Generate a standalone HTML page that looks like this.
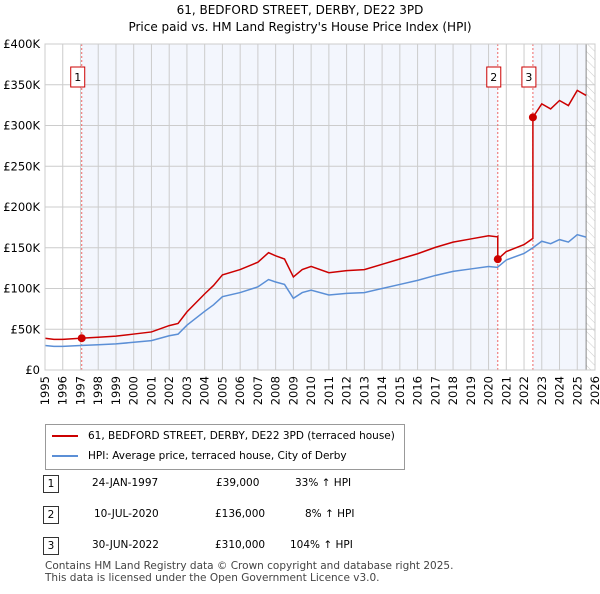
<!DOCTYPE html>
<html><head><meta charset="utf-8"><style>
body{margin:0;background:#fff;font-family:"DejaVu Sans","Liberation Sans",sans-serif;}
svg text{font-family:"DejaVu Sans","Liberation Sans",sans-serif;}
</style></head><body>
<svg id="c" width="600" height="590" xmlns="http://www.w3.org/2000/svg"></svg>
<script>
const years=[1995,1995.5,1996,1997,1998,1999,2000,2001,2002,2002.5,2003,2004,2004.5,2005,2006,2007,2007.6,2008,2008.5,2009,2009.5,2010,2011,2012,2013,2014,2015,2016,2017,2018,2019,2020,2020.5,2021,2022,2022.5,2023,2023.5,2024,2024.5,2025,2025.5];
const hpi=[30,29,29,30,31,32,34,36,42,44,55,72,80,90,95,102,111,108,105,88,95,98,92,94,95,100,105,110,116,121,124,127,126,135,143,150,158,155,160,157,166,163];
const saleDates=[1997.07,2020.52,2022.5];
const salePrices=[39,136,310];
const saleLabels=["1","2","3"];
const yTicks=[0,50,100,150,200,250,300,350,400];
const yTickLabels=["£0","£50K","£100K","£150K","£200K","£250K","£300K","£350K","£400K"];
const svg=document.getElementById('c');const NS="http://www.w3.org/2000/svg";
const X0=45,X1=595,Y0=370,Y1=44;
const x=t=>X0+(t-1995)*(X1-X0)/31;
const y=v=>Y0-v*(Y0-Y1)/400;
function el(tag,a,txt){const e=document.createElementNS(NS,tag);for(const k in a)e.setAttribute(k,a[k]);if(txt!==undefined)e.textContent=txt;svg.appendChild(e);return e;}
let e;
e=el('text',{x:300,y:14,'text-anchor':'middle','font-size':12},'61, BEDFORD STREET, DERBY, DE22 3PD');


e=el('text',{x:300,y:31,'text-anchor':'middle','font-size':12},"Price paid vs. HM Land Registry's House Price Index (HPI)");


e=el('rect',{x:x(saleDates[0]),y:Y1,width:x(saleDates[1])-x(saleDates[0]),height:Y0-Y1,fill:'#f3f6fd'});


e=el('rect',{x:x(saleDates[2]),y:Y1,width:x(2025.5)-x(saleDates[2]),height:Y0-Y1,fill:'#f3f6fd'});


const defs=el('defs',{});
defs.innerHTML='<pattern id="h" width="6" height="6" patternUnits="userSpaceOnUse" patternTransform="rotate(-45)"><line x1="0" y1="0" x2="0" y2="6" stroke="#ccc" stroke-width="1"/></pattern>';
e=el('rect',{x:x(2025.5),y:Y1,width:X1-x(2025.5),height:Y0-Y1,fill:'url(#h)'});


for(let t=1995;t<=2026;t++){
 e=el('line',{x1:x(t),x2:x(t),y1:Y1,y2:Y0,stroke:'#ccc','stroke-width':1});
 
 
 e=el('text',{transform:`translate(${x(t)+4},${Y0+6}) rotate(-90)`,'text-anchor':'end','font-size':11.5},String(t));
 
 
}
yTicks.forEach((v,i)=>{
 e=el('line',{x1:X0,x2:X1,y1:y(v),y2:y(v),stroke:'#ccc'});
 
 
 e=el('text',{x:X0-5,y:y(v)+4,'text-anchor':'end','font-size':11.5},yTickLabels[i]);
 
 
});
el('line',{x1:x(2025.5),x2:x(2025.5),y1:Y1,y2:Y0,stroke:'#888'});
saleDates.forEach((d,i)=>{
 e=el('line',{x1:x(d),x2:x(d),y1:Y1,y2:Y0,stroke:'#e66','stroke-dasharray':'2,2'});
 
 
});
function hpiAt(t){for(let i=1;i<years.length;i++){if(t<=years[i]){const f=(t-years[i-1])/(years[i]-years[i-1]);return hpi[i-1]+f*(hpi[i]-hpi[i-1]);}}return hpi[hpi.length-1];}
e=el('polyline',{points:years.map((t,i)=>x(t)+','+y(hpi[i])).join(' '),fill:'none',stroke:'#5b8fd6','stroke-width':1.5});


let pts=[];
for(let s=0;s<3;s++){
 const start=s==0?1995:saleDates[s];const end=s<2?saleDates[s+1]:2025.5;
 const r=salePrices[s]/hpiAt(saleDates[s]);
 const ts=[start,...years.filter(t=>t>start&&t<end),end];
 ts.forEach(t=>pts.push(x(t)+','+y(hpiAt(t)*r)));
 if(s<2)pts.push(x(end)+','+y(salePrices[s+1]));
}
e=el('polyline',{points:pts.join(' '),fill:'none',stroke:'#cc0000','stroke-width':1.5});


saleDates.forEach((d,i)=>{
 e=el('circle',{cx:x(d),cy:y(salePrices[i]),r:4,fill:'#cc0000'});
 
 
 e=el('rect',{x:x(d)-11,y:67,width:14,height:20,fill:'#fff',stroke:'#cc0000'});
 
 
 e=el('text',{x:x(d)-4,y:81,'text-anchor':'middle','font-size':11},saleLabels[i]);
 
 
});
el('rect',{x:X0,y:Y1,width:X1-X0,height:Y0-Y1,fill:'none',stroke:'#ccc'});
</script>
<div style="position:absolute;left:45px;top:424px;width:358px;height:44px;border:1px solid #999;font-size:10.5px;">
 <div style="position:absolute;left:6px;top:5px;white-space:nowrap"><span style="display:inline-block;width:26px;border-top:2px solid #cc0000;vertical-align:middle;margin-right:10px"></span>61, BEDFORD STREET, DERBY, DE22 3PD (terraced house)</div>
 <div style="position:absolute;left:6px;top:25px;white-space:nowrap"><span style="display:inline-block;width:26px;border-top:2px solid #5b8fd6;vertical-align:middle;margin-right:10px"></span>HPI: Average price, terraced house, City of Derby</div>
</div>
<div style="position:absolute;left:0;top:0;font-size:10.5px;">
 <div style="position:absolute;left:43px;top:475px;width:14px;height:16px;border:1px solid #333;text-align:center;line-height:16px">1</div>
 <div style="position:absolute;left:92px;top:477px;white-space:nowrap">24-JAN-1997</div>
 <div style="position:absolute;left:216px;top:477px;white-space:nowrap">£39,000</div>
 <div style="position:absolute;left:295px;top:477px;white-space:nowrap">33% ↑ HPI</div>
 <div style="position:absolute;left:43px;top:506px;width:14px;height:16px;border:1px solid #333;text-align:center;line-height:16px">2</div>
 <div style="position:absolute;left:94px;top:508px;white-space:nowrap">10-JUL-2020</div>
 <div style="position:absolute;left:215px;top:508px;white-space:nowrap">£136,000</div>
 <div style="position:absolute;left:305px;top:508px;white-space:nowrap">8% ↑ HPI</div>
 <div style="position:absolute;left:43px;top:537px;width:14px;height:16px;border:1px solid #333;text-align:center;line-height:16px">3</div>
 <div style="position:absolute;left:92px;top:539px;white-space:nowrap">30-JUN-2022</div>
 <div style="position:absolute;left:215px;top:539px;white-space:nowrap">£310,000</div>
 <div style="position:absolute;left:290px;top:539px;white-space:nowrap">104% ↑ HPI</div>
</div>
<div style="position:absolute;left:45px;top:560px;font-size:10.5px;color:#444;line-height:12px;white-space:nowrap">Contains HM Land Registry data © Crown copyright and database right 2025.<br>This data is licensed under the Open Government Licence v3.0.</div>
</body></html>
